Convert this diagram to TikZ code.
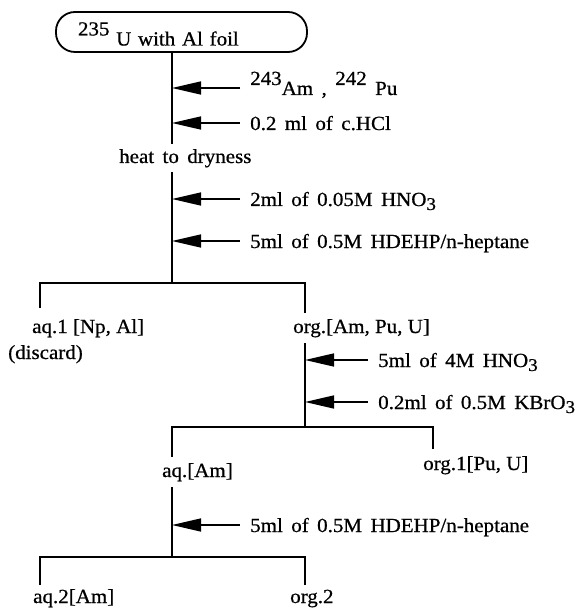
\documentclass[tikz,border=0pt]{standalone}
\usepackage{fontspec}
\setmainfont{Liberation Serif}[FakeStretch=1.05,FakeBold=0.7]
\usepackage{tikz}
\usetikzlibrary{positioning,arrows.meta}

\newcommand{\iso}[1]{\raisebox{10pt}{#1}}
\newcommand{\low}[1]{\raisebox{-4pt}{\fontsize{18}{20}\selectfont #1}}

\begin{document}
\begin{tikzpicture}[
    x=1pt,y=-1pt,
    >={Triangle[length=29pt,width=13pt]},
    font=\fontsize{20}{24}\selectfont,
    line/.style={line width=1.8pt},
    feed/.style={->,line width=1.5pt},
    samplebox/.style={draw,line width=1.8pt,rounded corners=19pt,text width=207pt,align=left,
        inner xsep=22pt,inner ysep=2.5pt,text height=31pt,text depth=4pt},
    reagent/.style={anchor=west,inner xsep=10pt,inner ysep=0pt,text height=16pt,text depth=2pt,
        execute at begin node={\spaceskip=0.42em plus 0.1em}},
    fraction/.style={anchor=base west,inner xsep=0pt,inner ysep=6pt,text height=14pt,text depth=4pt},
    stage/.style={fraction,inner ysep=5pt,execute at begin node={\spaceskip=0.42em plus 0.1em}}
]
\useasboundingbox (0,0) rectangle (578,609);

% starting material and first dissolution
\node[samplebox] (sample) at (181.5,32) {\iso{235} U with Al foil};
\node[reagent] (tracer) at (240,88) {\iso{243}Am , \iso{242} Pu};
\node[reagent] (hcl) at (240,123) {0.2 ml of c.HCl};
\node[stage] (heat) at (119,163) {heat to dryness};
\node[reagent] (dil) at (240,199) {2ml of 0.05M HNO\low{3}};
\node[reagent] (hdehp) at (240,241) {5ml of 0.5M HDEHP/n-heptane};

\coordinate (split1) at (172,283);
\coordinate (aq1top) at (40,308);
\node[fraction] (aq1) at (32,333) {aq.1 [Np, Al]};
\node[fraction] (discard) at (8,359) {(discard)};
\node[fraction] (org) at (293,333) {org.[Am, Pu, U]};

% back extraction of Am
\node[reagent] (strip) at (368,360) {5ml of 4M HNO\low{3}};
\node[reagent] (kbro) at (368,402) {0.2ml of 0.5M KBrO\low{3}};

\coordinate (split2) at (305,427);
\coordinate (org1top) at (433,449);
\node[fraction] (aqam) at (162,477) {aq.[Am]};
\node[fraction] (org1) at (423,470) {org.1[Pu, U]};

% second extraction
\node[reagent] (hdehp2) at (240,525) {5ml of 0.5M HDEHP/n-heptane};

\coordinate (split3) at (172,557);
\coordinate (aq2top) at (40,585);
\coordinate (org2top) at (305,585);
\node[fraction] (aq2) at (33,603) {aq.2[Am]};
\node[fraction] (org2) at (290,603) {org.2};

\draw[line] (sample.south -| split1) -- (heat.north -| split1);
\draw[line] (heat.south -| split1) -- (split1);
\draw[line] (aq1top) |- (split1) -| (org.north -| split2);
\draw[line] (org.south -| split2) -- (split2);
\draw[line] (aqam.north -| split3) |- (split2) -| (org1top);
\draw[line] (aqam.south -| split3) -- (split3);
\draw[line] (aq2top) |- (split3) -| (org2top);

\foreach \r in {tracer,hcl,dil,hdehp}
    \draw[feed] (\r.west) -- (\r.west -| split1);
\foreach \r in {strip,kbro}
    \draw[feed] (\r.west) -- (\r.west -| split2);
\draw[feed] (hdehp2.west) -- (hdehp2.west -| split3);
\end{tikzpicture}
\end{document}
